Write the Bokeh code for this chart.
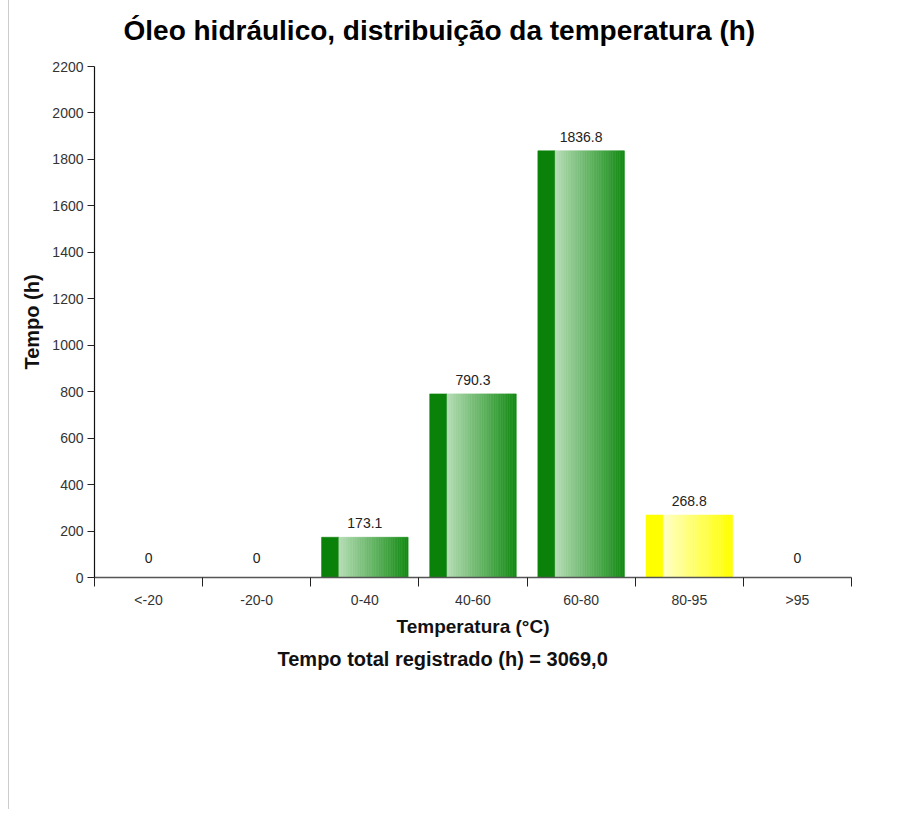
from bokeh.plotting import figure
from bokeh.models import FixedTicker, LabelSet, ColumnDataSource, Title, Range1d
from bokeh.core.properties import value
from bokeh.embed import file_html
from bokeh.resources import INLINE

# ---- data ----
categories = ["<-20", "-20-0", "0-40", "40-60", "60-80", "80-95", ">95"]
hours = [0, 0, 173.1, 790.3, 1836.8, 268.8, 0]
value_labels = ["0", "0", "173.1", "790.3", "1836.8", "268.8", "0"]
bar_class = ["g", "g", "g", "g", "g", "y", "g"]
y_ticks = [0, 200, 400, 600, 800, 1000, 1200, 1400, 1600, 1800, 2000, 2200]
title_text = "Óleo hidráulico, distribuição da temperatura (h)"
x_label = "Temperatura (°C)"
y_label = "Tempo (h)"
footer_text = "Tempo total registrado (h) = 3069,0"

FONT = "Liberation Sans"

# style
palette = {
    "g": {"strip": "#0a820a", "light": (0xb4, 0xdc, 0xb4), "dark": (0x14, 0x8c, 0x14)},
    "y": {"strip": "#ffff00", "light": (0xff, 0xff, 0xc4), "dark": (0xff, 0xff, 0x00)},
}
BAR_PAD = 0.1      # fraction of category on each side
STRIP_W = 0.16     # dark strip width (category units)
N_SLICES = 40

p = figure(width=893, height=818, output_backend="svg", toolbar_location=None,
           x_range=Range1d(0, len(categories)), y_range=Range1d(0, 2200),
           min_border_left=85, min_border_right=51, min_border_top=58, min_border_bottom=232)
p.margin = (-9, 0, 0, 8)
p.styles = {"border-left": "1px solid #cccccc"}
p.outline_line_color = None
p.xgrid.visible = False
p.ygrid.visible = False
p.background_fill_color = "white"

# gradient bars built from slices
left, right, top, bottom, colors = [], [], [], [], []
for i, (h, c) in enumerate(zip(hours, bar_class)):
    if h <= 0:
        continue
    pal = palette[c]
    x0 = i + BAR_PAD
    x1 = i + 1 - BAR_PAD
    left.append(x0); right.append(x0 + STRIP_W); top.append(h); bottom.append(0)
    colors.append(pal["strip"])
    gx0 = x0 + STRIP_W
    w = (x1 - gx0) / N_SLICES
    for k in range(N_SLICES):
        t = k / (N_SLICES - 1)
        rgb = tuple(int(round(pal["light"][j] + (pal["dark"][j] - pal["light"][j]) * t)) for j in range(3))
        left.append(gx0 + k * w); right.append(gx0 + (k + 1) * w)
        top.append(h); bottom.append(0)
        colors.append("#%02x%02x%02x" % rgb)

bars = ColumnDataSource(dict(left=left, right=right, top=top, bottom=bottom, color=colors))
p.quad(left="left", right="right", top="top", bottom="bottom", source=bars,
       fill_color="color", line_color="color", line_width=0.6)

# value labels
lab_src = ColumnDataSource(dict(
    x=[i + 0.5 for i in range(len(categories))],
    y=hours,
    text=value_labels,
    off=[15 if h == 0 else 9 for h in hours],
))
p.add_layout(LabelSet(x="x", y="y", text="text", source=lab_src, y_offset="off",
                      text_align="center", text_baseline="alphabetic",
                      text_font=value(FONT), text_font_size="14px", text_color="#222222"))

# x axis: boundaries as minor ticks, category names at centers
xa = p.xaxis[0]
xa.ticker = FixedTicker(ticks=[i + 0.5 for i in range(len(categories))],
                        minor_ticks=list(range(len(categories) + 1)))
xa.major_label_overrides = {i + 0.5: c for i, c in enumerate(categories)}
xa.major_tick_in = 0
xa.major_tick_out = 0
xa.minor_tick_in = 0
xa.minor_tick_out = 9
xa.minor_tick_line_color = "#222222"
xa.axis_line_color = "#555555"
xa.axis_line_width = 1.5
xa.major_label_text_font = FONT
xa.major_label_text_font_size = "14px"
xa.major_label_text_color = "#333333"
xa.major_label_standoff = 5
xa.axis_label = x_label
xa.axis_label_text_font = FONT
xa.axis_label_text_font_size = "19px"
xa.axis_label_text_font_style = "bold"
xa.axis_label_text_color = "#111111"
xa.axis_label_standoff = 5

ya = p.yaxis[0]
ya.ticker = FixedTicker(ticks=y_ticks, minor_ticks=[])
ya.major_tick_in = 0
ya.major_tick_out = 7
ya.major_tick_line_color = "#222222"
ya.axis_line_color = "#111111"
ya.axis_line_width = 1.2
ya.major_label_text_font = FONT
ya.major_label_text_font_size = "14px"
ya.major_label_text_color = "#333333"
ya.major_label_standoff = 4
ya.axis_label = y_label
ya.axis_label_text_font = FONT
ya.axis_label_text_font_size = "20px"
ya.axis_label_text_font_style = "bold"
ya.axis_label_text_color = "#111111"
ya.axis_label_standoff = 6

p.title.text = title_text
p.title.align = "left"
p.title.offset = 29
p.title.text_font = FONT
p.title.text_font_size = "28px"
p.title.text_font_style = "bold"
p.title.text_color = "#000000"
p.title.standoff = 42

footer = Title(text=footer_text, align="left", offset=183, text_font=FONT,
               text_font_size="20px", text_font_style="bold", text_color="#111111",
               standoff=12)
p.add_layout(footer, "below")

open("out.html", "w").write(file_html(p, INLINE))
